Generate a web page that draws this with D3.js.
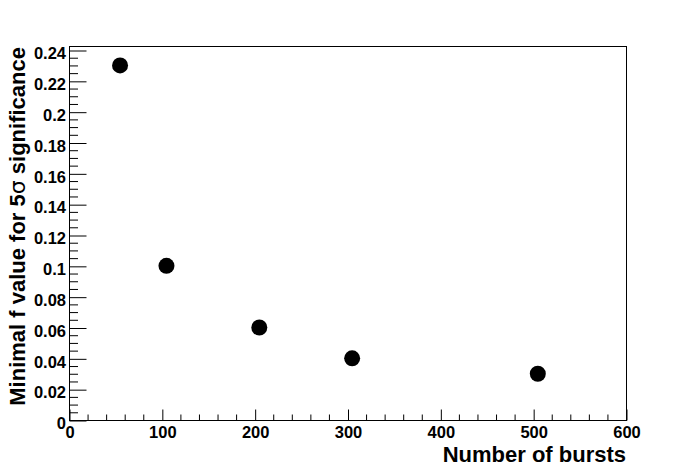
<!DOCTYPE html>
<html><head><meta charset="utf-8">
<script src="https://cdn.jsdelivr.net/npm/d3@7"></script>
<style>body{margin:0;background:#fff}svg{display:block}</style>
</head><body>
<svg id="c" width="696" height="467"></svg>
<script>
const bursts = [55, 105, 205, 305, 505];
const fValues = [0.23, 0.10, 0.06, 0.04, 0.03];
const xTicks = [0, 100, 200, 300, 400, 500, 600];
const yTicks = [0, 0.02, 0.04, 0.06, 0.08, 0.1, 0.12, 0.14, 0.16, 0.18, 0.2, 0.22, 0.24];
const xTitle = "Number of bursts";
const yTitle = ["Minimal f value for 5", "σ", " significance"];

const L = 69, R = 626, T = 46, B = 420;
const svg = d3.select("#c");
const x = d3.scaleLinear().domain([0, 600]).range([L, R]);
const y = d3.scaleLinear().domain([0, 0.2426]).range([B, T]);
const font = "'Liberation Sans', Arial, Helvetica, sans-serif";

// frame
svg.append("rect").attr("x", L + 0.5).attr("y", T + 0.5).attr("width", R - L).attr("height", B - T)
  .attr("fill", "none").attr("stroke", "#000").attr("stroke-width", 1);

// x axis
const xMinor = d3.range(0, 601, 20).filter(v => v % 100 !== 0);
const xAxis = d3.axisBottom(x).tickValues(xTicks).tickSize(-11).tickFormat(d3.format("d"));
const gx = svg.append("g").attr("transform", `translate(0.5,${B + 0.5})`).call(xAxis);
gx.select(".domain").remove();
gx.selectAll(".tick line").attr("stroke", "#000");
gx.selectAll(".tick text").attr("y", 17.5).attr("dy", 0)
  .attr("font-family", font).attr("font-weight", "bold").attr("font-size", 16.5).attr("fill", "#000");
svg.append("g").selectAll("line").data(xMinor).join("line")
  .attr("x1", d => x(d) + 0.5).attr("x2", d => x(d) + 0.5)
  .attr("y1", B + 0.5).attr("y2", B + 0.5 - 6).attr("stroke", "#000");

// y axis
const yMinor = d3.range(0, 49).map(i => i * 0.005).filter((v, i) => i % 4 !== 0 && y(v) >= T);
const yAxis = d3.axisLeft(y).tickValues(yTicks).tickSize(-17).tickFormat(d => d === 0 ? "0" : d3.format("")(+d.toFixed(2)));
const gy = svg.append("g").attr("transform", `translate(${L + 0.5},0.5)`).call(yAxis);
gy.select(".domain").remove();
gy.selectAll(".tick line").attr("stroke", "#000");
gy.selectAll(".tick text").attr("x", -3.5).attr("dy", 8.3).attr("text-anchor", "end")
  .attr("font-family", font).attr("font-weight", "bold").attr("font-size", 16.5).attr("fill", "#000");
svg.append("g").selectAll("line").data(yMinor).join("line")
  .attr("y1", d => y(d) + 0.5).attr("y2", d => y(d) + 0.5)
  .attr("x1", L + 0.5).attr("x2", L + 0.5 + 8.5).attr("stroke", "#000");

// points
svg.append("g").selectAll("circle").data(bursts).join("circle")
  .attr("cx", (d) => x(d)).attr("cy", (d, i) => y(fValues[i])).attr("r", 8).attr("fill", "#000");

// titles
svg.append("text").attr("x", R).attr("y", 462).attr("text-anchor", "end")
  .attr("font-family", font).attr("font-weight", "bold").attr("font-size", 22).attr("fill", "#000").text(xTitle);
const yt = svg.append("text").attr("transform", `translate(24.5,${T + 1}) rotate(-90)`).attr("text-anchor", "end")
  .attr("font-family", font).attr("font-weight", "bold").attr("font-size", 22).attr("fill", "#000");
yt.append("tspan").text(yTitle[0]);
yt.append("tspan").attr("font-weight", "normal").attr("font-family", "'DejaVu Sans', sans-serif").text(yTitle[1]);
yt.append("tspan").text(yTitle[2]);
</script>
</body></html>
